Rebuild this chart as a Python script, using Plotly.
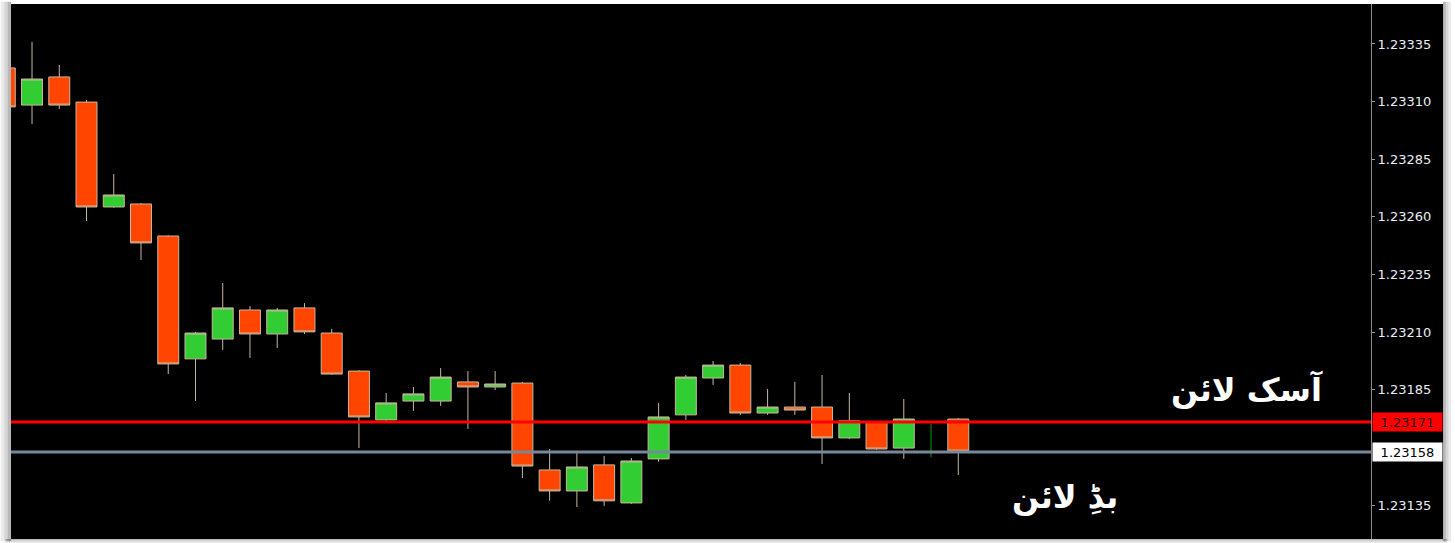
import plotly.graph_objects as go

# ---- data ----
bar_index = list(range(36))
opens  = [1.233246, 1.233085, 1.233207, 1.233098, 1.232643, 1.232656, 1.232517, 1.231984,
          1.232070, 1.232196, 1.232092, 1.232205, 1.232096, 1.231931, 1.231719, 1.231801,
          1.231801, 1.231884, 1.231862, 1.231879, 1.231502, 1.231411, 1.231524, 1.231359,
          1.231550, 1.231741, 1.231901, 1.231957, 1.231749, 1.231775, 1.231775, 1.231641,
          1.231710, 1.231597, 1.231580, 1.231723]
highs  = [1.233250, 1.233359, 1.233259, 1.233107, 1.232786, 1.232660, 1.232520, 1.232101,
          1.232313, 1.232213, 1.232205, 1.232226, 1.232114, 1.231935, 1.231836, 1.231862,
          1.231944, 1.231931, 1.231931, 1.231884, 1.231593, 1.231576, 1.231563, 1.231554,
          1.231793, 1.231914, 1.231975, 1.231966, 1.231853, 1.231884, 1.231914, 1.231836,
          1.231715, 1.231810, 1.231702, 1.231727]
lows   = [1.233070, 1.233003, 1.233068, 1.232582, 1.232640, 1.232413, 1.231918, 1.231801,
          1.232023, 1.231988, 1.232031, 1.232092, 1.231915, 1.231597, 1.231715, 1.231758,
          1.231780, 1.231680, 1.231849, 1.231467, 1.231368, 1.231341, 1.231346, 1.231355,
          1.231537, 1.231719, 1.231871, 1.231741, 1.231741, 1.231741, 1.231528, 1.231637,
          1.231590, 1.231550, 1.231558, 1.231480]
closes = [1.233077, 1.233198, 1.233085, 1.232643, 1.232695, 1.232487, 1.231962, 1.232096,
          1.232205, 1.232092, 1.232196, 1.232101, 1.231918, 1.231732, 1.231793, 1.231832,
          1.231905, 1.231862, 1.231875, 1.231519, 1.231411, 1.231515, 1.231368, 1.231541,
          1.231732, 1.231905, 1.231957, 1.231749, 1.231775, 1.231762, 1.231641, 1.231715,
          1.231593, 1.231723, 1.231580, 1.231584]
doji_index = [34]

ask_price = 1.23171
bid_price = 1.23158
y_ticks = [1.23135, 1.23185, 1.23210, 1.23235, 1.23260, 1.23285, 1.23310, 1.23335]
ask_label = "آسک لائن"
bid_label = "بڈِ لائن"

# ---- figure ----
main_x = [i for i in bar_index if i not in doji_index]
pick = lambda arr, idx: [arr[i] for i in idx]

fig = go.Figure()
wick = "#c8b89e"
fig.add_trace(go.Candlestick(
    x=main_x, open=pick(opens, main_x), high=pick(highs, main_x),
    low=pick(lows, main_x), close=pick(closes, main_x),
    increasing=dict(line=dict(color=wick, width=1), fillcolor="#32cd32"),
    decreasing=dict(line=dict(color=wick, width=1), fillcolor="#ff4500"),
    whiskerwidth=0, showlegend=False, hoverinfo="skip"))
fig.add_trace(go.Candlestick(
    x=doji_index, open=pick(opens, doji_index), high=pick(highs, doji_index),
    low=pick(lows, doji_index), close=pick(closes, doji_index),
    increasing=dict(line=dict(color="#00a000", width=1), fillcolor="#00a000"),
    decreasing=dict(line=dict(color="#00a000", width=1), fillcolor="#00a000"),
    whiskerwidth=0, showlegend=False, hoverinfo="skip"))

fig.add_hline(y=ask_price, line=dict(color="#ff0000", width=3), layer="above")
fig.add_hline(y=bid_price, line=dict(color="#778899", width=3), layer="above")

# black price-scale panel and frame shadow
fig.add_shape(type="rect", xref="paper", yref="paper", x0=1, x1=1.053, y0=0, y1=1,
              fillcolor="#000000", line=dict(width=0), layer="below")
for k, a in enumerate([0.08, 0.16, 0.28]):
    fig.add_shape(type="rect", xref="paper", yref="paper",
                  x0=1.053 + (2 - k) * 0.002, x1=1.053 + (3 - k) * 0.002, y0=-0.004, y1=1.004,
                  fillcolor=f"rgba(0,0,0,{a})", line=dict(width=0), layer="below")
    fig.add_shape(type="rect", xref="paper", yref="paper",
                  x0=-(3 - k) * 0.0025, x1=-(2 - k) * 0.0025, y0=-0.004, y1=1.004,
                  fillcolor=f"rgba(0,0,0,{a})", line=dict(width=0), layer="below")
    fig.add_shape(type="rect", xref="paper", yref="paper",
                  x0=-0.004, x1=1.056, y0=-(2 - k) * 0.0025 - 0.0025, y1=-(2 - k) * 0.0025,
                  fillcolor=f"rgba(0,0,0,{a})", line=dict(width=0), layer="below")

# price labels on the scale
fig.add_annotation(xref="paper", yref="y", x=1, y=ask_price, xanchor="left", xshift=1,
                   text=f"{ask_price:.5f}", showarrow=False, bgcolor="#ff0000",
                   font=dict(family="DejaVu Sans", size=13, color="#2a0000"),
                   width=65, height=14, borderpad=2)
fig.add_annotation(xref="paper", yref="y", x=1, y=bid_price, xanchor="left", xshift=1,
                   text=f"{bid_price:.5f}", showarrow=False, bgcolor="#ffffff",
                   font=dict(family="DejaVu Sans", size=13, color="#000000"),
                   width=65, height=14, borderpad=2)

# Urdu labels
fig.add_annotation(x=45.6, y=1.231849, text=f"<b>{ask_label}</b>", showarrow=False,
                   font=dict(family="DejaVu Sans", size=32, color="#ffffff"))
fig.add_annotation(x=38.92, y=1.231385, text=f"<b>{bid_label}</b>", showarrow=False,
                   font=dict(family="DejaVu Sans", size=32, color="#ffffff"))

fig.update_layout(
    width=1455, height=543,
    margin=dict(l=11, r=84, t=4, b=4),
    paper_bgcolor="#ffffff", plot_bgcolor="#000000",
    boxgap=0.23, boxgroupgap=0.0,
    xaxis=dict(range=[0.228, 50.15], showgrid=False, zeroline=False, showticklabels=False,
               rangeslider=dict(visible=False), showline=False, ticks=""),
    yaxis=dict(range=[1.2312025, 1.2335235], side="right", showgrid=False, zeroline=False,
               tickvals=y_ticks, ticktext=[f"{v:.5f}" for v in y_ticks],
               ticks="outside", ticklen=3, tickcolor="#a0a0a0",
               showline=True, linecolor="#8a8a8a", linewidth=1,
               tickfont=dict(family="DejaVu Sans", size=13, color="#e8eef4")),
)

fig.write_html("out.html", config={"displayModeBar": False},
               post_script="document.body.style.margin='0';document.body.style.overflow='hidden';")
